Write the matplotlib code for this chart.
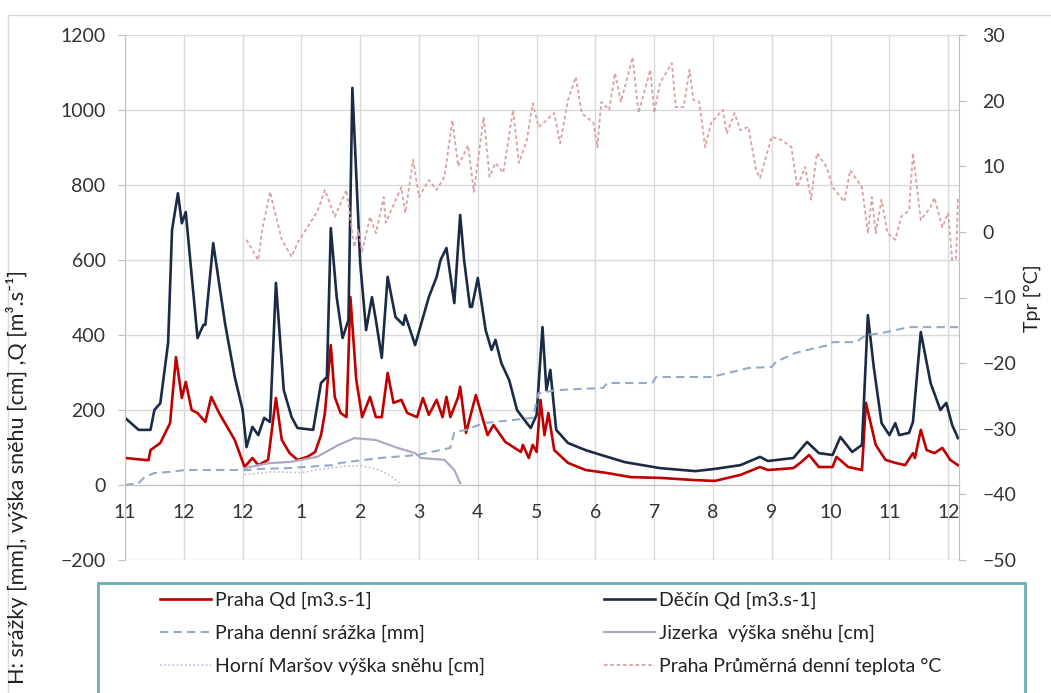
import matplotlib
matplotlib.use("Agg")
import matplotlib.pyplot as plt
from matplotlib.patches import Rectangle

# ---- data (day index from start of record, value) ----
month_labels = ["11", "12", "12", "1", "2", "3", "4", "5", "6", "7", "8", "9", "10", "11", "12"]
month_pos = [0, 30, 60, 90, 120, 150, 180, 210, 240, 270, 300, 330, 360, 390, 420]

decin_day = [0, 7, 13, 15, 18, 22, 24, 27, 29, 31, 37, 40, 41, 45, 51, 56, 60, 62, 65, 68,
             71, 74, 77, 81, 85, 88, 96, 100, 103, 105, 108, 111, 114, 116, 120, 123, 126,
             128, 131, 134, 138, 142, 143, 148, 155, 159, 161, 164, 168, 171, 173, 176, 177,
             180, 184, 187, 189, 192, 196, 200, 205, 207, 210, 213, 215, 217, 220, 226, 235,
             243, 255, 273, 291, 301, 314, 324, 328, 341, 348, 354, 361, 365, 371, 376, 379,
             382, 386, 390, 393, 395, 400, 402, 406, 411, 416, 419, 422, 425]
decin_q = [179, 147, 147, 200, 218, 379, 680, 778, 698, 728, 392, 427, 427, 645, 432, 288, 200,
           101, 155, 133, 179, 168, 539, 253, 181, 152, 147, 272, 288, 685, 501, 392, 440, 1059,
           592, 413, 501, 440, 339, 555, 448, 427, 453, 373, 501, 555, 600, 632, 485, 720, 600,
           475, 475, 552, 413, 360, 387, 325, 280, 200, 165, 152, 187, 421, 253, 307, 147, 112,
           93, 80, 61, 45, 37, 43, 53, 75, 64, 72, 115, 85, 80, 128, 88, 107, 453, 315, 165,
           133, 165, 133, 139, 168, 408, 272, 200, 219, 160, 125]

praha_day = [0, 12, 13, 18, 23, 26, 29, 31, 34, 37, 41, 44, 48, 56, 61, 65, 68, 73, 77, 80, 84,
             88, 93, 97, 100, 102, 105, 107, 110, 113, 115, 118, 121, 125, 128, 131, 134, 137,
             141, 144, 149, 152, 155, 159, 162, 164, 166, 170, 171, 174, 179, 183, 185, 188,
             194, 202, 203, 206, 208, 210, 212, 214, 216, 219, 226, 235, 246, 258, 273, 291,
             301, 314, 324, 328, 341, 345, 349, 354, 361, 363, 369, 376, 378, 383, 388, 393,
             398, 402, 403, 406, 409, 413, 417, 421, 425]
praha_q = [72, 66, 93, 112, 165, 341, 232, 275, 200, 192, 168, 235, 192, 120, 48, 72, 53, 67,
           232, 120, 85, 67, 75, 88, 133, 192, 373, 235, 192, 181, 501, 280, 181, 235, 181, 181,
           299, 219, 227, 192, 181, 232, 187, 227, 181, 235, 181, 235, 262, 139, 240, 168, 133,
           160, 115, 88, 107, 72, 107, 88, 227, 133, 192, 93, 59, 40, 32, 21, 19, 13, 11, 27,
           48, 40, 45, 61, 80, 48, 48, 75, 48, 40, 219, 107, 67, 59, 53, 85, 72, 147, 93, 85,
           99, 67, 53]

rain_day = [0, 7, 10, 15, 23, 31, 63, 69, 83, 106, 110, 130, 149, 166, 168, 174, 183, 208, 211,
            220, 244, 246, 269, 271, 299, 308, 318, 330, 332, 342, 352, 359, 361, 373, 378,
            386, 393, 400, 425]
rain_mm = [0, 5, 21, 32, 35, 40, 40, 43, 45, 53, 59, 72, 80, 99, 141, 147, 165, 179, 245, 253,
           259, 272, 272, 288, 288, 299, 312, 315, 328, 352, 365, 373, 381, 381, 400, 405, 413,
           421, 421]

jizerka_day = [61, 73, 85, 98, 109, 117, 128, 139, 148, 151, 163, 168, 171]
jizerka_cm = [45, 58, 62, 75, 107, 125, 120, 99, 85, 72, 67, 40, 5]

marsov_day = [61, 75, 90, 100, 112, 120, 130, 136, 140]
marsov_cm = [28, 35, 33, 42, 50, 52, 40, 22, 5]

temp_day = [62, 68, 70, 74, 80, 85, 88, 93, 98, 102, 107, 113, 117, 119, 121, 125, 128, 132,
            133, 141, 143, 147, 150, 155, 159, 163, 167, 170, 175, 178, 183, 186, 189, 193,
            198, 201, 205, 208, 211, 215, 219, 222, 226, 230, 233, 239, 241, 243, 247, 250,
            253, 259, 262, 268, 270, 273, 279, 281, 285, 288, 290, 293, 296, 299, 305, 307,
            311, 314, 318, 322, 324, 327, 330, 335, 340, 343, 347, 350, 353, 358, 361, 367,
            370, 376, 379, 381, 383, 386, 389, 393, 396, 400, 402, 406, 411, 413, 417, 420,
            422, 424, 425]
temp_c = [-1.2, -4.3, 0.3, 6.1, -1.2, -3.8, -1.7, 0.7, 3.0, 6.4, 2.3, 6.4, -2.3, 0.3, -3.0,
          2.3, -0.2, 5.3, 1.4, 6.8, 2.9, 11.0, 5.3, 7.9, 6.4, 8.4, 17.0, 10.0, 13.2, 6.1, 17.5,
          8.4, 10.5, 9.0, 18.6, 10.5, 14.0, 19.6, 16.0, 17.0, 18.1, 13.5, 20.1, 23.6, 18.1,
          16.6, 12.9, 19.8, 18.6, 24.2, 19.8, 26.6, 18.1, 24.7, 18.1, 22.7, 25.7, 19.0, 19.0,
          24.7, 20.1, 19.8, 12.9, 16.6, 18.6, 15.0, 18.1, 15.5, 16.0, 9.4, 8.2, 11.4, 14.5,
          14.0, 12.9, 6.8, 9.9, 4.9, 12.0, 9.9, 6.8, 4.6, 9.4, 6.8, -0.2, 5.3, -0.2, 4.9, -0.2,
          -1.2, 2.3, 3.3, 12.0, 1.8, 3.8, 5.2, 0.7, 2.9, -4.3, -4.0, 5.3]

# ---- style ----
plt.rcParams["font.family"] = ["Lato", "DejaVu Sans"]
txt = "#333333"
grid = "#d9d9d9"
axis_c = "#bfbfbf"
fs = 14

W, H = 1051, 693
fig = plt.figure(figsize=(W / 100, H / 100), dpi=100)
ax = fig.add_axes([125 / W, 1 - 560 / H, (959 - 125) / W, (560 - 35) / H])
ax2 = ax.twinx()

# outer chart border
fig.patches.append(Rectangle((8 / W, -0.1), 1.2, 1.1 - 15 / H, transform=fig.transFigure,
                             fill=False, edgecolor="#d9d9d9", lw=1))

ax.set_xlim(0, 425.5)
ax.set_ylim(-200, 1200)
ax.set_yticks(range(-200, 1201, 200))
ax.set_xticks(month_pos)
ax.set_xticklabels(month_labels)
ax.grid(True, color=grid, lw=1)
ax.set_axisbelow(True)
ax.tick_params(axis="y", direction="out", length=5, color=axis_c, labelsize=fs,
               labelcolor=txt, pad=9)
ax.tick_params(axis="x", length=0, labelsize=fs, labelcolor=txt, pad=14)
ax.spines["bottom"].set_position(("data", 0))
for s in ["bottom", "left"]:
    ax.spines[s].set_color(axis_c)
ax.spines["top"].set_visible(False)
ax.spines["right"].set_visible(False)

ax2.set_ylim(-50, 30)
ax2.set_yticks(range(-50, 31, 10))
ax2.tick_params(axis="y", direction="out", length=5, color=axis_c, labelsize=fs,
                labelcolor=txt, pad=12)
for s in ["top", "left", "bottom"]:
    ax2.spines[s].set_visible(False)
ax2.spines["right"].set_color(axis_c)

# ---- series ----
l_praha, = ax.plot(praha_day, praha_q, color="#c00000", lw=1.9, label="Praha Qd [m3.s-1]")
l_decin, = ax.plot(decin_day, decin_q, color="#1b2a45", lw=1.9, label="Děčín Qd [m3.s-1]")
l_rain, = ax.plot(rain_day, rain_mm, color="#93aac8", lw=1.5, dashes=(4, 2.5),
                  label="Praha denní srážka [mm]")
l_jiz, = ax.plot(jizerka_day, jizerka_cm, color="#b0a6c6", lw=1.6,
                 label="Jizerka  výška sněhu [cm]")
l_mar, = ax.plot(marsov_day, marsov_cm, color="#b3c0d6", lw=1.2, dashes=(1, 1.5),
                 label="Horní Maršov výška sněhu [cm]")
l_temp, = ax2.plot(temp_day, temp_c, color="#d9a2a2", lw=1.3, dashes=(2, 1.5),
                   label="Praha Průměrná denní teplota °C")

# ---- axis titles ----
fig.text(17 / W, 1 - 270 / H, "H: srážky [mm], výška sněhu [cm] ,Q [m³.s⁻¹]",
         rotation=90, ha="center", va="top", fontsize=15.5, color="#222222")
fig.text(1032 / W, 1 - 298 / H, "Tpr [°C]", rotation=90, ha="center", va="center",
         fontsize=14, color="#222222")

# ---- legend ----
fig.patches.append(Rectangle((98 / W, -0.1), (1025 - 98) / W, 0.1 + 1 - 583 / H,
                             transform=fig.transFigure, fill=False,
                             edgecolor="#6aafb3", lw=2))
handles = [l_praha, l_rain, l_mar, l_decin, l_jiz, l_temp]
fig.legend(handles, [h.get_label() for h in handles], ncol=2, loc="upper left",
           bbox_to_anchor=(160 / W, 1 - 592 / H), frameon=False, fontsize=14,
           handlelength=2.6, handletextpad=0.25, columnspacing=6.1, labelspacing=0.8,
           borderpad=0, borderaxespad=0, labelcolor="#222222")

fig.savefig("out.png", dpi=100)
